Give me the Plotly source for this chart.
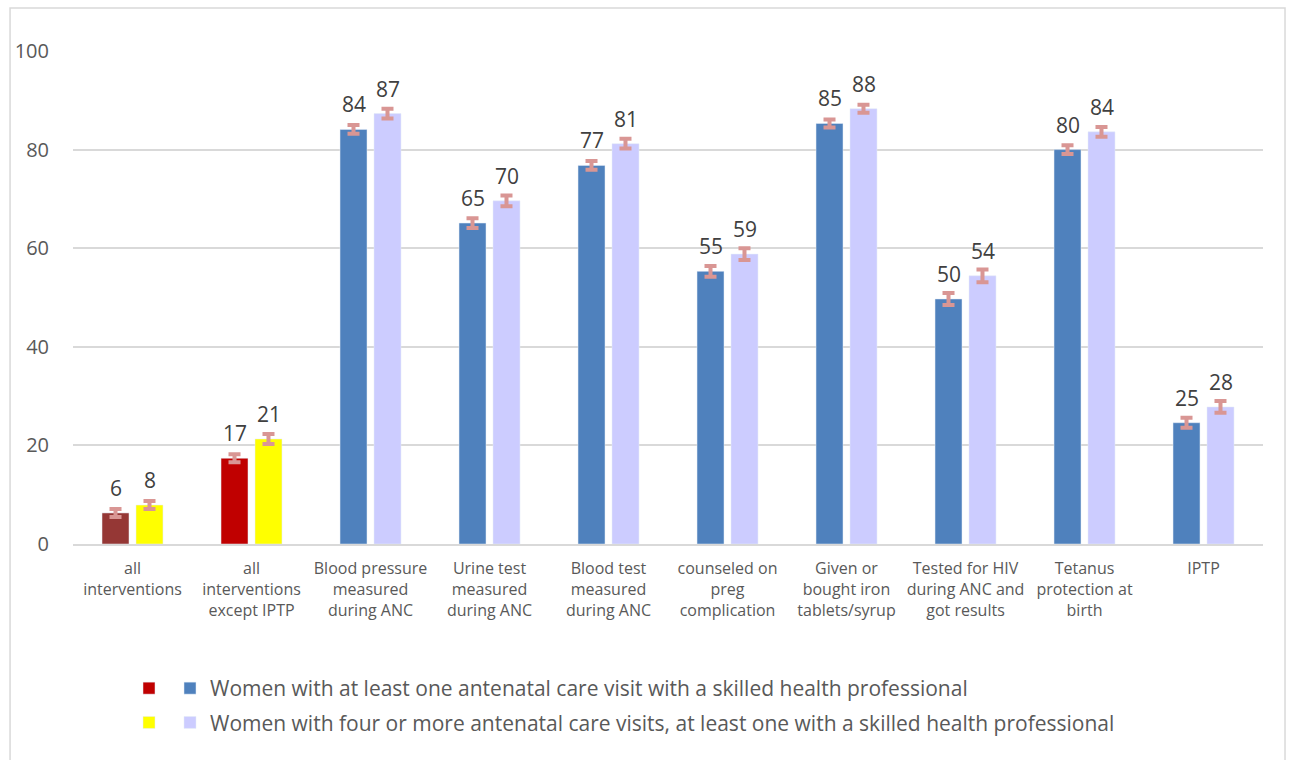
import plotly.graph_objects as go

categories = [
    "all<br>interventions",
    "all<br>interventions<br>except IPTP",
    "Blood pressure<br>measured<br>during ANC",
    "Urine test<br>measured<br>during ANC",
    "Blood test<br>measured<br>during ANC",
    "counseled on<br>preg<br>complication",
    "Given or<br>bought iron<br>tablets/syrup",
    "Tested for HIV<br>during ANC and<br>got results",
    "Tetanus<br>protection at<br>birth",
    "IPTP",
]
one_visit = [6.3, 17.4, 84.1, 65.1, 76.8, 55.3, 85.3, 49.7, 80.0, 24.6]
four_visits = [7.9, 21.3, 87.3, 69.6, 81.2, 58.8, 88.3, 54.4, 83.6, 27.8]
err_one = [0.8, 0.8, 0.9, 1.0, 0.9, 1.1, 0.8, 1.2, 0.9, 1.0]
err_four = [0.8, 1.0, 1.0, 1.1, 1.0, 1.2, 0.8, 1.3, 1.0, 1.2]

name_one = "Women with at least one antenatal care visit with a skilled health professional"
name_four = "Women with four or more antenatal care visits, at least one with a skilled health professional"

C_DARKRED = "#953735"
C_RED = "#C00000"
C_YELLOW = "#FFFF00"
C_BLUE = "#4F81BD"
C_LAV = "#CCCCFF"
C_ERR = "#D99694"
FONT = "Open Sans"

def err(vals):
    return dict(type="data", array=vals, visible=True, color=C_ERR, thickness=4, width=6)

fig = go.Figure()
# summary categories
fig.add_trace(go.Bar(x=categories[:1], y=one_visit[:1], offsetgroup="a", marker_color=C_DARKRED,
                     error_y=err(err_one[:1]), showlegend=False, name=""))
fig.add_trace(go.Bar(x=categories[1:2], y=one_visit[1:2], offsetgroup="a", marker_color=C_RED,
                     error_y=err(err_one[1:2]), showlegend=True, legend="legend2", name=" ",
                     legendgroup="r1"))
fig.add_trace(go.Bar(x=categories[:2], y=four_visits[:2], offsetgroup="b", marker_color=C_YELLOW,
                     error_y=err(err_four[:2]), showlegend=True, legend="legend2", name="  ",
                     legendgroup="r2"))
# interventions
fig.add_trace(go.Bar(x=categories[2:], y=one_visit[2:], offsetgroup="a", marker_color=C_BLUE,
                     error_y=err(err_one[2:]), name=name_one, legendgroup="b1"))
fig.add_trace(go.Bar(x=categories[2:], y=four_visits[2:], offsetgroup="b", marker_color=C_LAV,
                     error_y=err(err_four[2:]), name=name_four, legendgroup="b2"))

for i, c in enumerate(categories):
    for vals, shift in ((one_visit, -17), (four_visits, 17)):
        fig.add_annotation(x=c, y=vals[i], text=str(round(vals[i])), showarrow=False,
                           xshift=shift, yshift=9, yanchor="bottom",
                           font=dict(family=FONT, size=21, color="#404040"))

# chart border
fig.add_shape(type="rect", xref="paper", yref="paper", x0=-0.0529, x1=1.0185, y0=-0.46, y1=1.0872,
              line=dict(color="#D9D9D9", width=1.5), fillcolor="rgba(0,0,0,0)", layer="below")

legend_font = dict(family=FONT, size=21, color="#595959")
fig.update_layout(
    width=1290, height=760,
    margin=dict(l=73, r=27, t=51, b=216),
    paper_bgcolor="white", plot_bgcolor="white",
    barmode="group", bargap=0.429, bargroupgap=0.206,
    font=dict(family=FONT, color="#595959"),
    xaxis=dict(categoryorder="array", categoryarray=categories, showgrid=False,
               showline=True, linecolor="#D9D9D9", linewidth=1.5, ticklabelstandoff=9,
               tickfont=dict(family=FONT, size=16, color="#595959"), ticks=""),
    yaxis=dict(range=[0, 100], dtick=20, showgrid=True, gridcolor="#D9D9D9", gridwidth=1.5,
               zeroline=False, showline=False, ticks="", ticklabelstandoff=23,
               tickfont=dict(family=FONT, size=20, color="#595959")),
    legend=dict(x=(196 - 73 - 26) / 1190, xanchor="left", y=(544 - 668) / 493, yanchor="top",
                font=legend_font, bgcolor="rgba(0,0,0,0)", tracegroupgap=4,
                itemclick=False),
    legend2=dict(x=(149 - 73 - 20) / 1190, xanchor="left", y=(544 - 668) / 493, yanchor="top",
                 font=legend_font, bgcolor="rgba(0,0,0,0)", tracegroupgap=4,
                 itemclick=False),
)

fig.write_html("out.html")
